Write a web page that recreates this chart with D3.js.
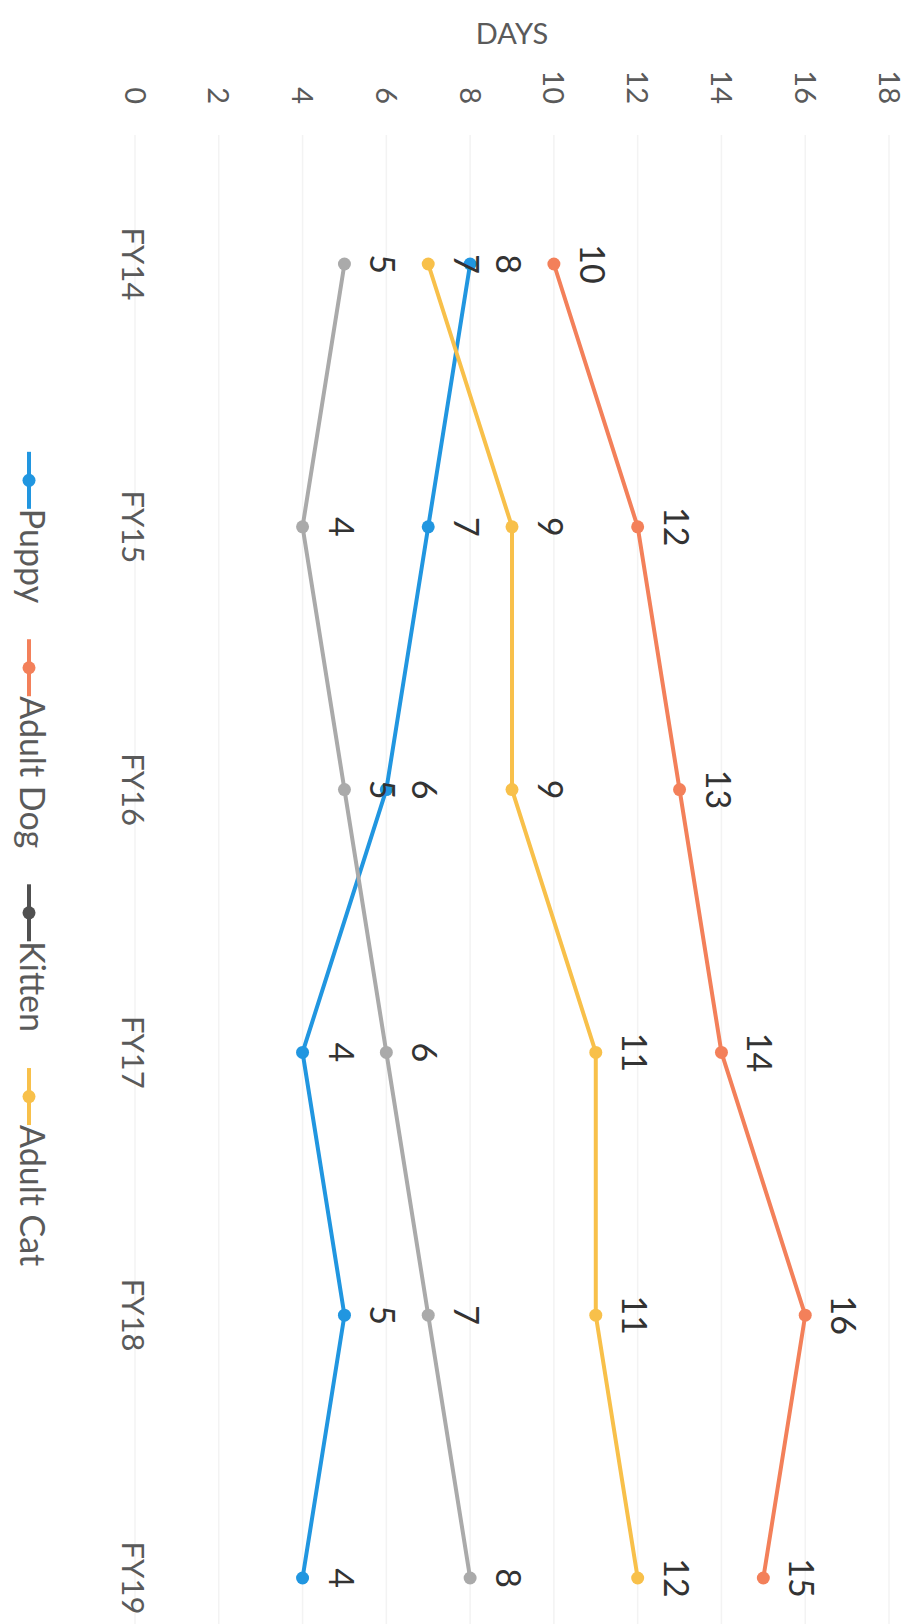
<!DOCTYPE html>
<html>
<head>
<meta charset="utf-8">
<script src="https://cdn.jsdelivr.net/npm/d3@7"></script>
<style>
  body{ margin:0; background:#fff; }
  svg{ display:block; }
  text{ font-family: Lato, "Open Sans", sans-serif; }
</style>
</head>
<body>
<svg id="chart" width="922" height="1624"></svg>
<script>
/* Datos del gráfico (días de estancia por tipo de animal) */
const years = ["FY14","FY15","FY16","FY17","FY18","FY19"];
const seriesNames = ["Puppy","Adult Dog","Kitten","Adult Cat"];
const puppy    = [8, 7, 6, 4, 5, 4];
const adultDog = [10, 12, 13, 14, 16, 15];
const kitten   = [5, 4, 5, 6, 7, 8];
const adultCat = [7, 9, 9, 11, 11, 12];
const dayTicks = [0, 2, 4, 6, 8, 10, 12, 14, 16, 18];

const lineColors   = ["#2196e0", "#f3805a", "#aaaaaa", "#f8c04a"];
const legendColors = ["#2196e0", "#f3805a", "#505050", "#f8c04a"];

const series = [puppy, adultDog, kitten, adultCat].map((vals, i) => ({
  name: seriesNames[i], values: vals, color: lineColors[i], legend: legendColors[i]
}));

/* La imagen original está girada 90°: se dibuja el gráfico "derecho"
   (ancho = alto de la página) y se gira todo el grupo. */
const svg = d3.select("#chart");
svg.append("rect").attr("width", 922).attr("height", 1624).attr("fill", "#fff");

const g = svg.append("g").attr("transform", "translate(922,0) rotate(90)");

const plotLeft = 135, plotRight = 1624;
const x = d3.scalePoint().domain(years).range([264, 1578]);
const y = d3.scaleLinear().domain([0, 18]).range([787, 33]);

// líneas de cuadrícula
g.append("g").selectAll("line")
  .data(dayTicks)
  .enter().append("line")
  .attr("x1", plotLeft).attr("x2", plotRight)
  .attr("y1", d => y(d)).attr("y2", d => y(d))
  .attr("stroke", "#f3f3f3").attr("stroke-width", 1.5);

// etiquetas del eje de días
g.append("g").selectAll("text")
  .data(dayTicks)
  .enter().append("text")
  .attr("x", 104).attr("y", d => y(d)).attr("dy", "0.36em")
  .attr("text-anchor", "end")
  .attr("font-size", 29).attr("fill", "#5a5a5a")
  .text(d => d);

// título del eje
g.append("text")
  .attr("transform", `translate(44,${(y(0) + y(18)) / 2}) rotate(-90)`)
  .attr("text-anchor", "middle")
  .attr("font-size", 29).attr("fill", "#5a5a5a")
  .text("DAYS");

// etiquetas de categorías
g.append("g").selectAll("text")
  .data(years)
  .enter().append("text")
  .attr("x", d => x(d)).attr("y", 800)
  .attr("text-anchor", "middle")
  .attr("font-size", 31).attr("fill", "#5a5a5a")
  .text(d => d);

// series
const line = d3.line().x((d, i) => x(years[i])).y(d => y(d));

const sg = g.selectAll("g.serie")
  .data(series)
  .enter().append("g").attr("class", "serie");

sg.append("path")
  .attr("d", d => line(d.values))
  .attr("fill", "none")
  .attr("stroke", d => d.color)
  .attr("stroke-width", 4)
  .attr("stroke-linejoin", "round");

sg.selectAll("circle")
  .data(d => d.values.map((v, i) => ({ v, i, color: d.color })))
  .enter().append("circle")
  .attr("cx", d => x(years[d.i])).attr("cy", d => y(d.v))
  .attr("r", 6.5)
  .attr("fill", d => d.color);

// etiquetas de datos
g.append("g").selectAll("g")
  .data(series)
  .enter().append("g")
  .selectAll("text")
  .data(d => d.values.map((v, i) => ({ v, i })))
  .enter().append("text")
  .attr("x", d => x(years[d.i])).attr("y", d => y(d.v) - 26)
  .attr("text-anchor", "middle")
  .attr("font-size", 34).attr("fill", "#333")
  .text(d => d.v);

// leyenda
const legY = 893, segLen = 57, gap = 36, legCenter = 859;
const lg = g.append("g");
const items = lg.selectAll("g")
  .data(series)
  .enter().append("g");

items.append("line")
  .attr("x1", 0).attr("x2", segLen)
  .attr("y1", legY).attr("y2", legY)
  .attr("stroke", d => d.legend).attr("stroke-width", 4);
items.append("circle")
  .attr("cx", segLen / 2).attr("cy", legY).attr("r", 6.5)
  .attr("fill", d => d.legend);
items.append("text")
  .attr("x", segLen).attr("y", 902)
  .attr("font-size", 34).attr("fill", "#5a5a5a")
  .text(d => d.name);

const widths = [];
items.each(function(){ widths.push(segLen + this.querySelector("text").getComputedTextLength()); });
const total = d3.sum(widths) + gap * (widths.length - 1);
let cur = legCenter - total / 2;
items.attr("transform", (d, i) => {
  const t = `translate(${cur},0)`;
  cur += widths[i] + gap;
  return t;
});
</script>
</body>
</html>
